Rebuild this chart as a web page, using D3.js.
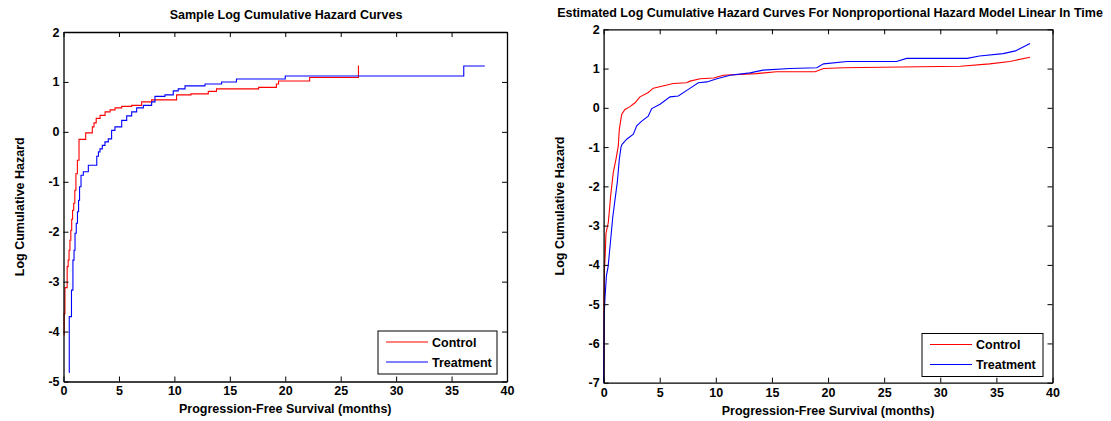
<!DOCTYPE html>
<html>
<head>
<meta charset="utf-8">
<script src="https://cdn.jsdelivr.net/npm/d3@7"></script>
<style>
  body { margin: 0; background: #fff; }
  svg text { font-family: "Liberation Sans", Arial, Helvetica, sans-serif; }
</style>
</head>
<body>
<div id="chart"></div>
<script>
// ---- data (months, log cumulative hazard) ----
var xTicks = [0, 5, 10, 15, 20, 25, 30, 35, 40];
var sampleYTicks = [-5, -4, -3, -2, -1, 0, 1, 2];
var modelYTicks = [-7, -6, -5, -4, -3, -2, -1, 0, 1, 2];
var seriesNames = ["Control", "Treatment"];

// sample curves (step functions)
var sampleControl = [
  [0.03, -4.07], [0.06, -3.64], [0.13, -3.12], [0.33, -2.70], [0.42, -2.57],
  [0.50, -2.37], [0.58, -2.17], [0.66, -1.97], [0.74, -1.75], [0.82, -1.57],
  [0.92, -1.43], [1.02, -1.17], [1.12, -0.84], [1.25, -0.57], [1.40, -0.15],
  [2.00, -0.02], [2.60, 0.10], [2.75, 0.18], [2.95, 0.27], [3.30, 0.33],
  [3.75, 0.40], [4.20, 0.44], [4.65, 0.48], [5.25, 0.51], [6.15, 0.53],
  [7.05, 0.60], [7.95, 0.64], [10.2, 0.74], [11.5, 0.76], [13.06, 0.81],
  [13.8, 0.86], [17.6, 0.89], [19.2, 0.96], [19.4, 1.02], [22.2, 1.09],
  [26.6, 1.33]
];
var sampleTreatment = [
  [0.50, -4.82], [0.52, -3.70], [0.72, -3.17], [0.85, -2.57], [0.95, -2.37],
  [1.04, -2.03], [1.15, -1.83], [1.26, -1.60], [1.36, -1.37], [1.45, -1.10],
  [1.58, -0.87], [1.79, -0.80], [2.24, -0.67], [3.00, -0.49], [3.15, -0.40],
  [3.29, -0.34], [3.50, -0.27], [3.74, -0.20], [4.04, -0.14], [4.34, 0.03],
  [4.64, 0.10], [5.25, 0.23], [5.70, 0.32], [6.15, 0.40], [6.60, 0.48],
  [7.20, 0.53], [7.95, 0.60], [8.25, 0.71], [9.15, 0.74], [9.90, 0.82],
  [10.35, 0.86], [10.96, 0.92], [12.76, 0.96], [14.26, 1.00], [15.6, 1.06],
  [20.0, 1.12], [36.1, 1.32], [38.0, 1.32]
];

// estimated curves from the nonproportional hazard model
var modelControl = [
  [0.01, -7.0], [0.03, -4.8], [0.08, -4.1], [0.15, -3.7], [0.21, -3.2],
  [0.42, -2.92], [0.63, -2.24], [0.86, -1.65], [1.10, -1.31], [1.31, -0.97],
  [1.40, -0.55], [1.61, -0.17], [1.90, -0.04], [2.35, 0.03], [2.80, 0.13],
  [3.24, 0.28], [3.98, 0.39], [4.43, 0.50], [5.18, 0.55], [6.20, 0.62],
  [7.40, 0.64], [7.70, 0.68], [8.60, 0.74], [9.80, 0.76], [10.67, 0.83],
  [13.6, 0.87], [15.4, 0.92], [18.85, 0.92], [19.6, 1.00], [21.4, 1.02],
  [26.4, 1.04], [31.8, 1.06], [34.4, 1.12], [36.2, 1.18], [38.0, 1.29]
];
var modelTreatment = [
  [0.01, -7.0], [0.05, -5.3], [0.12, -4.87], [0.25, -4.28], [0.40, -4.05],
  [0.60, -3.45], [0.81, -2.80], [1.02, -2.33], [1.22, -1.90], [1.40, -1.31],
  [1.55, -1.00], [1.65, -0.93], [2.06, -0.80], [2.65, -0.67], [2.95, -0.46],
  [3.40, -0.34], [3.98, -0.21], [4.29, -0.02], [5.03, 0.09], [5.92, 0.28],
  [6.66, 0.30], [7.55, 0.47], [8.44, 0.64], [9.20, 0.66], [10.1, 0.74],
  [11.27, 0.83], [13.05, 0.89], [14.2, 0.96], [16.6, 1.00], [19.0, 1.02],
  [19.6, 1.12], [21.7, 1.18], [26.1, 1.18], [27.0, 1.26], [32.4, 1.26],
  [33.5, 1.32], [35.6, 1.38], [36.7, 1.45], [38.0, 1.64]
];

var colors = ["#ff0000", "#0000ff"];
var fontSize = "12.5px";

var svg = d3.select("#chart").append("svg")
  .attr("width", 1111)
  .attr("height", 421);

svg.append("rect").attr("width", 1111).attr("height", 421).attr("fill", "#fff");

function drawPanel(p) {
  var x = d3.scaleLinear().domain([0, 40]).range([p.left, p.right]);
  var y = d3.scaleLinear().domain(p.yDomain).range([p.bottom, p.top]);
  var g = svg.append("g");

  // curves
  var line = d3.line()
    .x(function (d) { return x(d[0]); })
    .y(function (d) { return y(d[1]); })
    .curve(p.curve);
  p.series.forEach(function (s, i) {
    g.append("path")
      .attr("d", line(s))
      .attr("fill", "none")
      .attr("stroke", colors[i])
      .attr("stroke-width", 1.1);
  });

  // axes with inward ticks on all four sides
  function style(a) {
    a.select(".domain").attr("stroke", "#000").attr("stroke-width", 1.3);
    a.selectAll(".tick line").attr("stroke", "#000");
    a.selectAll("text")
      .attr("font-size", fontSize)
      .attr("font-weight", "bold")
      .attr("fill", "#000")
      .style("font-family", '"Liberation Sans", Arial, sans-serif');
  }
  var fmt = function (d) { return String(d); }; // plain hyphen minus like the original
  g.append("g")
    .attr("transform", "translate(0," + p.bottom + ")")
    .call(d3.axisBottom(x).tickValues(xTicks).tickFormat(fmt).tickSizeInner(-5).tickSizeOuter(0).tickPadding(5))
    .call(style);
  g.append("g")
    .attr("transform", "translate(0," + p.top + ")")
    .call(d3.axisTop(x).tickValues(xTicks).tickSizeInner(-5).tickSizeOuter(0).tickFormat(""))
    .call(style);
  g.append("g")
    .attr("transform", "translate(" + p.left + ",0)")
    .call(d3.axisLeft(y).tickValues(p.yTicks).tickFormat(fmt).tickSizeInner(-5).tickSizeOuter(0).tickPadding(4))
    .call(style);
  g.append("g")
    .attr("transform", "translate(" + p.right + ",0)")
    .call(d3.axisRight(y).tickValues(p.yTicks).tickSizeInner(-5).tickSizeOuter(0).tickFormat(""))
    .call(style);

  // titles
  g.append("text")
    .attr("x", p.titleX).attr("y", p.titleY)
    .attr("text-anchor", "middle")
    .attr("font-size", fontSize).attr("font-weight", "bold")
    .text(p.title);
  g.append("text")
    .attr("x", (p.left + p.right) / 2).attr("y", p.xLabelY)
    .attr("text-anchor", "middle")
    .attr("font-size", fontSize).attr("font-weight", "bold")
    .text("Progression-Free Survival (months)");
  g.append("text")
    .attr("transform", "translate(" + p.yLabelX + "," + ((p.top + p.bottom) / 2) + ") rotate(-90)")
    .attr("text-anchor", "middle")
    .attr("font-size", fontSize).attr("font-weight", "bold")
    .text("Log Cumulative Hazard");

  // legend
  var lg = g.append("g").attr("transform", "translate(" + p.legend[0] + "," + p.legend[1] + ")");
  lg.append("rect")
    .attr("width", p.legend[2]).attr("height", 43)
    .attr("fill", "#fff").attr("stroke", "#000").attr("stroke-width", 1);
  seriesNames.forEach(function (name, i) {
    var ly = 11 + i * 20;
    lg.append("line")
      .attr("x1", 8).attr("x2", 50).attr("y1", ly).attr("y2", ly)
      .attr("stroke", colors[i]).attr("stroke-width", 1.1);
    lg.append("text")
      .attr("x", 54).attr("y", ly + 4.5)
      .attr("font-size", fontSize).attr("font-weight", "bold")
      .text(name);
  });
}

drawPanel({
  left: 63.5, right: 507, top: 32, bottom: 381.5,
  yDomain: [-5, 2], yTicks: sampleYTicks,
  series: [sampleControl, sampleTreatment],
  curve: d3.curveStepAfter,
  title: "Sample Log Cumulative Hazard Curves",
  titleX: 286, titleY: 19, xLabelY: 413, yLabelX: 24,
  legend: [378, 331, 119]
});

drawPanel({
  left: 603.6, right: 1052.5, top: 29.3, bottom: 382.7,
  yDomain: [-7, 2], yTicks: modelYTicks,
  series: [modelControl, modelTreatment],
  curve: d3.curveLinear,
  title: "Estimated Log Cumulative Hazard Curves For Nonproportional Hazard Model Linear In Time",
  titleX: 830, titleY: 17, xLabelY: 415, yLabelX: 564,
  legend: [922, 333.5, 121]
});
</script>
</body>
</html>
